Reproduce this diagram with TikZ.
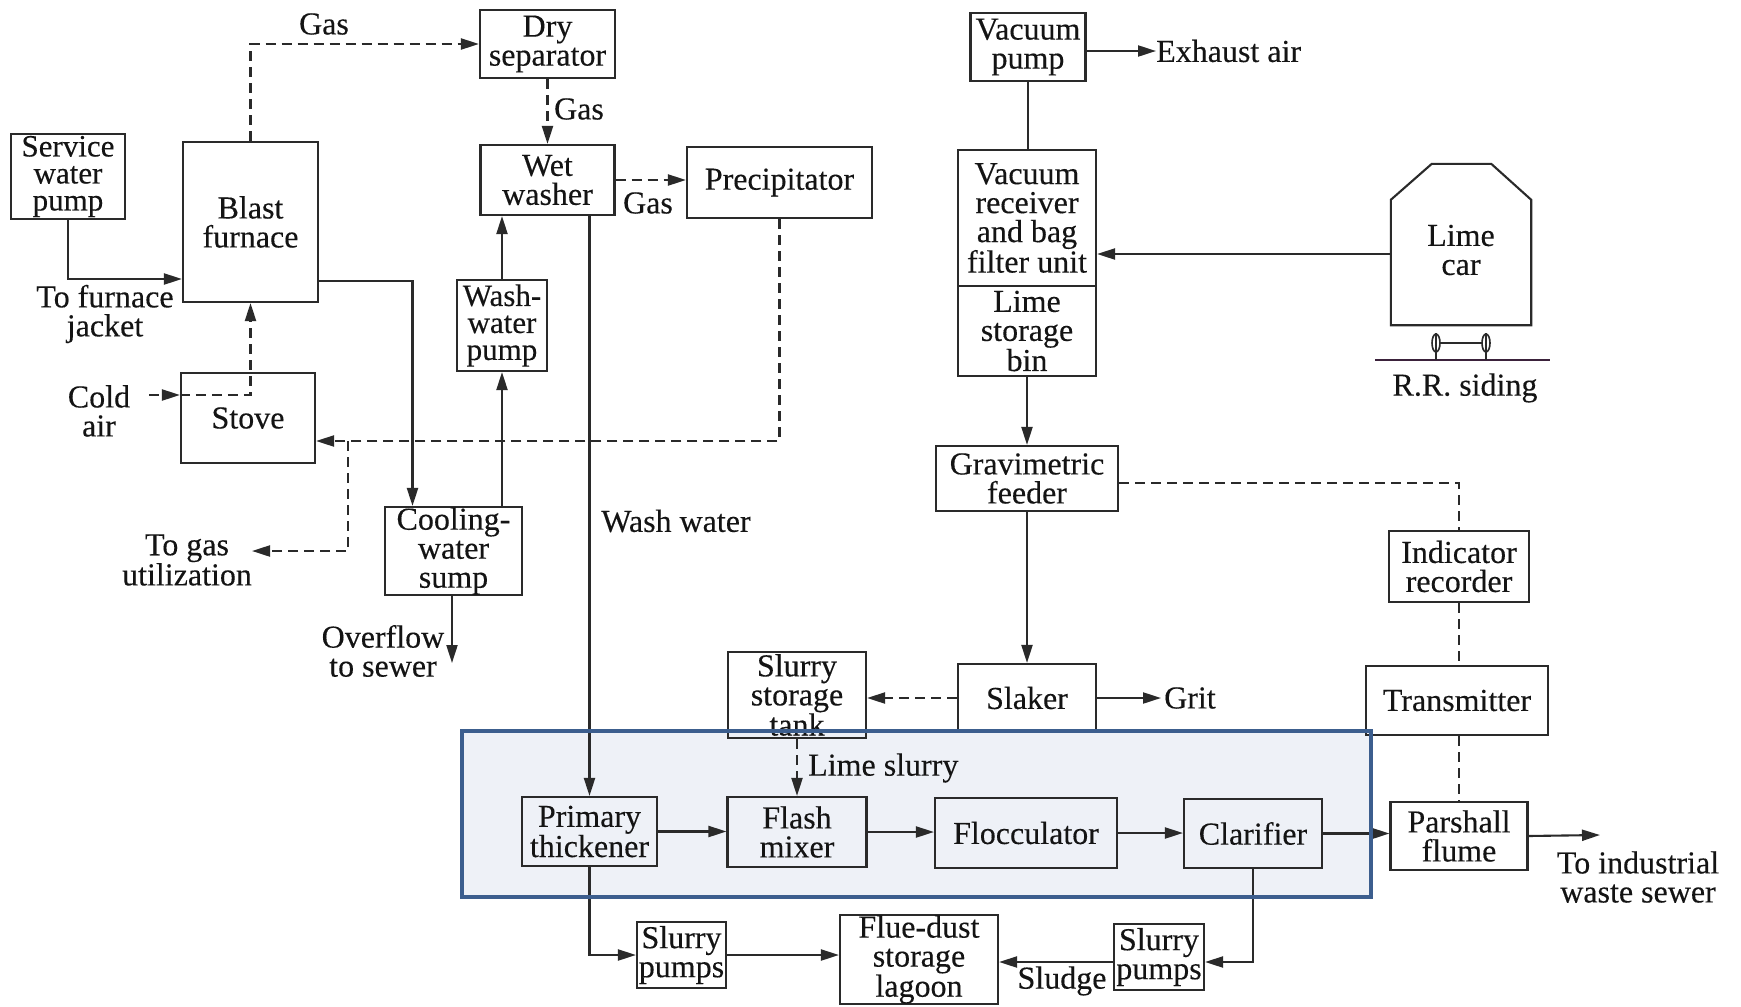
\documentclass[tikz,border=0pt]{standalone}
\usepackage{fontspec}
\setmainfont[FakeBold=0.25]{Liberation Serif}
\usetikzlibrary{arrows.meta,calc}
\definecolor{linec}{HTML}{2A2A2A}
\definecolor{textc}{HTML}{141414}
\definecolor{bluec}{HTML}{3C5E8E}
\definecolor{bluefill}{HTML}{EEF1F7}
\newcommand{\lf}{\fontsize{32}{29}\selectfont}
\newcommand{\lft}{\fontsize{31}{27}\selectfont}
\begin{document}
\begin{tikzpicture}[x=1pt,y=-1pt,
  box/.style={draw=linec, line width=2.1pt, inner sep=0pt, align=center, text=textc, font=\lf},
  tight/.style={font=\lft},
  lbl/.style={inner sep=0pt, align=center, text=textc, font=\lf},
  flowa/.style={draw=linec, line width=2.1pt, -{Triangle[length=18pt,width=11pt]}},
  flowp/.style={draw=linec, line width=2.1pt},
  gasa/.style={flowa, dash pattern=on 10pt off 6pt},
  gasp/.style={flowp, dash pattern=on 10pt off 6pt}]
\useasboundingbox (0,0) rectangle (1741,1007);
\fill[white] (0,0) rectangle (1741,1007);
% highlighted region fill
\fill[bluefill] (462,731) rectangle (1371,897);

% boxes
\node[box, tight, minimum width=114pt, minimum height=85pt] (svc) at (68,176.5) {Service\\water\\pump};
\node[box, minimum width=135pt, minimum height=160pt] (bf) at (250.5,222) {Blast\\furnace};
\node[box, minimum width=135pt, minimum height=68pt] (dry) at (547.5,44) {Dry\\separator};
\node[box, minimum width=134pt, minimum height=70pt] (wet) at (547.5,180) {Wet\\washer};
\node[box, minimum width=185pt, minimum height=71pt] (prec) at (779.5,182.5) {Precipitator};
\node[box, tight, minimum width=90pt, minimum height=91pt] (wwp) at (502,325.5) {Wash-\\water\\pump};
\node[box, minimum width=134pt, minimum height=90pt] (stove) at (248,418) {Stove};
\node[box, minimum width=137pt, minimum height=88pt] (sump) at (453.5,551) {Cooling-\\water\\sump};
\node[box, minimum width=115pt, minimum height=68pt] (vp) at (1028,47) {Vacuum\\pump};
\node[box, minimum width=138pt, minimum height=136pt] (vr) at (1027,218) {Vacuum\\receiver\\and bag\\filter unit};
\node[box, minimum width=138pt, minimum height=90pt] (bin) at (1027,331) {Lime\\storage\\bin};
\node[inner sep=0pt, minimum width=140pt, minimum height=161pt] (car) at (1461,244.5) {};
\node[box, minimum width=182pt, minimum height=65pt] (grav) at (1027,478.5) {Gravimetric\\feeder};
\node[box, minimum width=140pt, minimum height=71pt] (ind) at (1459,566.5) {Indicator\\recorder};
\node[box, minimum width=138pt, minimum height=68pt] (slaker) at (1027,698) {Slaker};
\node[box, minimum width=182pt, minimum height=69pt] (trans) at (1457,700.5) {Transmitter};
\node[box, minimum width=138pt, minimum height=86pt] (tank) at (797,695) {Slurry\\storage\\tank};
\node[box, minimum width=135pt, minimum height=69pt] (thick) at (589.5,831.5) {Primary\\thickener};
\node[box, minimum width=139pt, minimum height=70pt] (flash) at (797,832) {Flash\\mixer};
\node[box, minimum width=182pt, minimum height=70pt] (floc) at (1026,833) {Flocculator};
\node[box, minimum width=138pt, minimum height=69pt] (clar) at (1253,833.5) {Clarifier};
\node[box, minimum width=137pt, minimum height=68pt] (pars) at (1459,836) {Parshall\\flume};
\node[box, minimum width=89pt, minimum height=66pt] (spl) at (681.5,955) {Slurry\\pumps};
\node[box, minimum width=158pt, minimum height=89pt] (lagoon) at (919,959.5) {Flue-dust\\storage\\lagoon};
\node[box, minimum width=90pt, minimum height=66pt] (spr) at (1159,957) {Slurry\\pumps};

% lime car outline
\draw[linec, line width=2.1pt] (car.south west) -- ($(car.north west)+(0,36)$) -- ($(car.north west)+(41,0)$)
  -- ($(car.north east)+(-40,0)$) -- ($(car.north east)+(0,36)$) -- (car.south east) -- cycle;
\node[lbl] (carlbl) at (1461,250) {Lime\\car};
% R.R. siding
\draw[linec!80!violet, line width=2.8pt] (1375,360) -- (1550,360);
\draw[linec, line width=1.6pt] (1436,333) -- (1436,360) (1486,333) -- (1486,360);
\draw[linec, line width=1.6pt] (1436,343) ellipse [x radius=4, y radius=9];
\draw[linec, line width=1.6pt] (1486,343) ellipse [x radius=4, y radius=9];
\draw[linec, line width=2.4pt] (1440,343) -- (1482,343);

% free labels
\node[lbl] (gas1) at (324,24) {Gas};
\node[lbl] (gas2) at (579,109) {Gas};
\node[lbl] (gas3) at (648,203) {Gas};
\node[lbl] (furn) at (105,314) {To furnace\\jacket};
\node[lbl] (cold) at (99,411) {Cold\\air};
\node[lbl] (togas) at (187,560) {To gas\\utilization};
\node[lbl] (washw) at (676,521) {Wash water};
\node[lbl] (ovf) at (383,651) {Overflow\\to sewer};
\node[lbl, anchor=west] (exh) at (1156,51) {Exhaust air};
\node[lbl] (rr) at (1465,388) {R.R. siding};
\node[lbl, anchor=west] (grit) at (1164,698) {Grit};
\node[lbl, anchor=west] (limes) at (808,768) {Lime slurry};
\node[lbl] (toind) at (1638,877) {To industrial\\waste sewer};
\node[lbl] (sludge) at (1062,981) {Sludge};

\coordinate (coldstart) at (149,395);
\coordinate (gasbr) at (348,441);
\coordinate (gasutil) at (252,551);
\coordinate (indend) at (1600,835);
\coordinate (ovfend) at (452,663);

% gas connectors
\draw[gasa] (bf.north) |- (dry.west);
\draw[gasa] (dry.south) -- (wet.north);
\draw[gasa] (wet.east) -- (prec.west |- wet.east);
\draw[gasa] (prec.south) |- ($(stove.east)+(0,23)$);
\draw[gasa] (gasbr) |- (gasutil);
\draw[gasa] (coldstart) -- (stove.west |- coldstart);
\draw[gasa] (stove.west |- coldstart) -| (bf.south);

% water connectors
\draw[flowa] (svc.south) |- ($(bf.west)+(0,57)$);
\draw[flowa] ($(bf.east)+(0,59)$) -| ($(sump.north)+(-41,0)$);
\draw[flowa] (sump.north -| wwp.south) -- (wwp.south);
\draw[flowa] (wwp.north) -- (wwp.north |- wet.south);
\draw[flowa] (thick.north |- wet.south) -- (thick.north);
\draw[flowa] (sump.south -| ovfend) -- (ovfend);

% lime connectors
\draw[flowa] (vp.east |- exh.west) -- (exh.west);
\draw[flowp] (vp.south) -- (vp.south |- vr.north);
\draw[flowa] ($(car.west)+(0,9.5)$) -- ($(vr.east)+(0,36)$);
\draw[flowa] (bin.south) -- (grav.north);
\draw[gasp] ($(grav.east)+(0,4.5)$) -| (ind.north);
\draw[gasp] (ind.south) -- (ind.south |- trans.north);
\draw[gasp] (pars.north |- trans.south) -- (pars.north);
\draw[flowa] (grav.south) -- (slaker.north);
\draw[flowa] (slaker.east) -- ($(grit.west)+(-3,0)$);
\draw[gasa] (slaker.west) -- (tank.east |- slaker.west);
\draw[gasa] (tank.south) -- (flash.north);

% main line
\draw[flowa] (thick.east) -- (flash.west |- thick.east);
\draw[flowa] (flash.east) -- (floc.west |- flash.east);
\draw[flowa] (floc.east) -- (clar.west |- floc.east);
\draw[flowa] (clar.east) -- (pars.west |- clar.east);
\draw[flowa] (pars.east) -- (indend);

% sludge
\draw[flowa] (thick.south) |- (spl.west);
\draw[flowa] (spl.east) -- (lagoon.west |- spl.east);
\draw[flowa] (clar.south) |- ($(spr.east)+(0,5)$);
\draw[flowa] ($(spr.west)+(0,5)$) -- ($(lagoon.east)+(0,2.5)$);

% highlighted region border
\draw[bluec, line width=4pt] (462,731) rectangle (1371,897);
\end{tikzpicture}
\end{document}
